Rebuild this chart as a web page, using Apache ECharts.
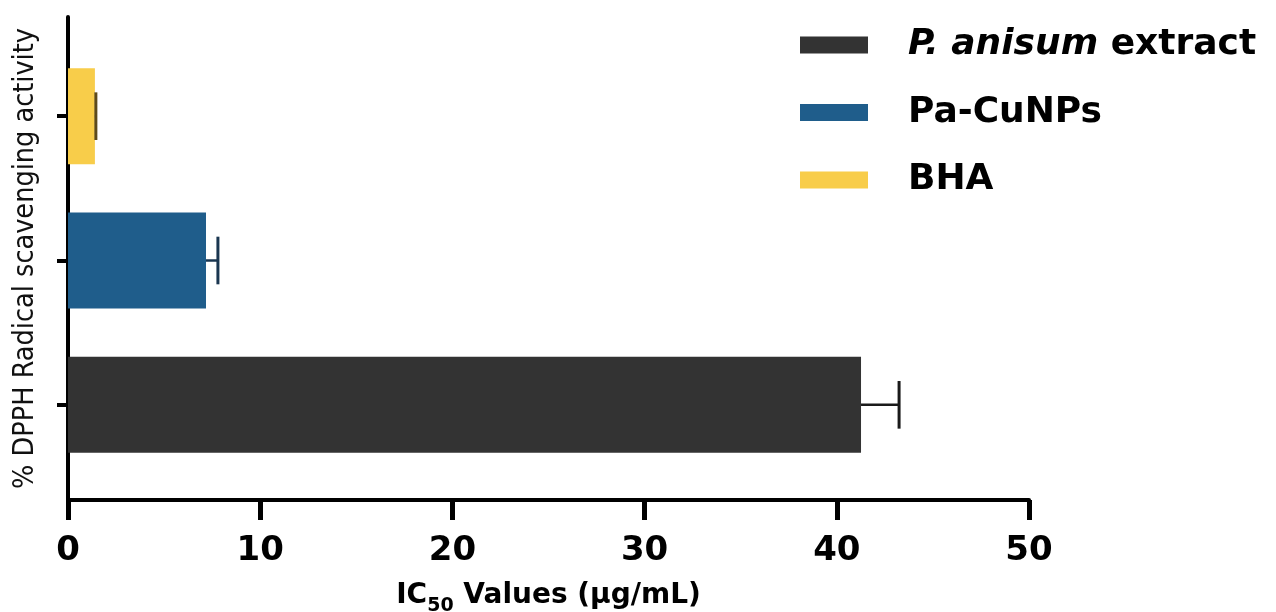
<!DOCTYPE html>
<html>
<head>
<meta charset="utf-8">
<script src="https://cdn.jsdelivr.net/npm/echarts@6/dist/echarts.min.js"></script>
<style>
  html, body { margin: 0; padding: 0; background: #fff; }
  #plot { width: 1276px; height: 612px; }
</style>
</head>
<body>
<div id="plot"></div>
<script>
// categories from bottom to top (category y axis starts at the bottom)
const categories = ['P. anisum extract', 'Pa-CuNPs', 'BHA'];
const ic50Values = [41.26, 7.18, 1.40];
const ic50Errors = [1.98, 0.62, 0.05];
const barColors = ['#333333', '#1f5d8b', '#f8cd4a'];
const errColors = ['#1a1a1a', '#1a3650', '#5c4a1c'];
const xTicks = [0, 10, 20, 30, 40, 50];

const boldFont = '"DejaVu Sans", sans-serif';

function drawPlot() {
    const chart = echarts.init(document.getElementById('plot'));

    // one bar series per group so every group gets its own legend entry
    const barSeries = categories.map((name, i) => ({
        name: name,
        type: 'bar',
        xAxisIndex: 1,
        yAxisIndex: 1,
        barWidth: '66.5%',
        barGap: '-100%',
        itemStyle: { color: barColors[i] },
        data: categories.map((c, j) => (j === i ? ic50Values[j] : null)),
        silent: true
    }));

    const errSeries = {
        type: 'custom',
        xAxisIndex: 1,
        yAxisIndex: 1,
        silent: true,
        z: 5,
        renderItem: (params, api) => {
            const v = api.value(0);
            const cat = api.value(1);
            const e = api.value(2);
            const p0 = api.coord([v, cat]);
            const p1 = api.coord([v + e, cat]);
            const half = api.size([0, 1])[1] * 0.165;
            const color = errColors[params.dataIndex];
            return {
                type: 'group',
                children: [
                    { type: 'line', shape: { x1: p0[0], y1: p0[1], x2: p1[0], y2: p1[1] },
                      style: { stroke: color, lineWidth: 2.5 } },
                    { type: 'line', shape: { x1: p1[0], y1: p1[1] - half, x2: p1[0], y2: p1[1] + half },
                      style: { stroke: color, lineWidth: 3 } }
                ]
            };
        },
        encode: { x: 0, y: 1 },
        data: categories.map((c, i) => [ic50Values[i], i, ic50Errors[i]])
    };

    const option = {
        animation: false,
        grid: [
            // frame grid: axis lines, x ticks and labels
            { left: 68, right: 247, top: 17, bottom: 112, outerBoundsMode: 'none', containLabel: false },
            // bar grid: the category band
            { left: 68, right: 247, top: 44, bottom: 135, outerBoundsMode: 'none', containLabel: false }
        ],
        legend: {
            data: categories,
            orient: 'vertical',
            left: 800,
            top: 25,
            padding: 0,
            itemWidth: 68,
            itemHeight: 17,
            itemGap: 27.5,
            icon: 'rect',
            selectedMode: false,
            formatter: name => name === 'P. anisum extract' ? '{i|P. anisum} extract' : name,
            textStyle: {
                fontFamily: boldFont,
                fontWeight: 'bold',
                fontSize: 36,
                lineHeight: 40,
                color: '#000',
                padding: [0, 0, 0, 35],
                rich: {
                    i: { fontFamily: boldFont, fontWeight: 'bold', fontStyle: 'italic', fontSize: 36, lineHeight: 40, color: '#000' }
                }
            }
        },
        xAxis: [
            {
                gridIndex: 0,
                type: 'value',
                min: xTicks[0],
                max: xTicks[xTicks.length - 1],
                interval: 10,
                axisLine: { show: true, lineStyle: { color: '#000', width: 4 } },
                axisTick: { show: true, length: 20, lineStyle: { color: '#000', width: 5 } },
                splitLine: { show: false },
                axisLabel: {
                    margin: 34,
                    fontFamily: boldFont,
                    fontWeight: 'bold',
                    fontSize: 34,
                    color: '#000'
                },
                name: '{n|IC}{s|50}{n| Values (µg/mL)}',
                nameLocation: 'middle',
                nameGap: 80,
                nameTextStyle: {
                    rich: {
                        n: { fontFamily: boldFont, fontWeight: 'bold', fontSize: 28, color: '#000', verticalAlign: 'bottom', lineHeight: 30 },
                        s: { fontFamily: boldFont, fontWeight: 'bold', fontSize: 19, color: '#000', verticalAlign: 'bottom', padding: [0, 0, -6, 0], lineHeight: 30 }
                    }
                }
            },
            {
                gridIndex: 1,
                type: 'value',
                min: xTicks[0],
                max: xTicks[xTicks.length - 1],
                show: false
            }
        ],
        yAxis: [
            {
                gridIndex: 0,
                type: 'value',
                axisLine: { show: true, lineStyle: { color: '#000', width: 4 } },
                axisTick: { show: false },
                axisLabel: { show: false },
                splitLine: { show: false },
                name: '% DPPH Radical scavenging activity',
                nameLocation: 'middle',
                nameRotate: 90,
                nameGap: 28,
                nameTextStyle: {
                    fontFamily: '"Liberation Sans Narrow", "DejaVu Sans Condensed", "Liberation Sans", sans-serif',
                    fontSize: 28.5,
                    fontWeight: 500,
                    color: '#111'
                }
            },
            {
                gridIndex: 1,
                type: 'category',
                data: categories,
                axisLine: { show: false },
                axisTick: { show: true, alignWithLabel: true, length: 11, lineStyle: { color: '#000', width: 4 } },
                axisLabel: { show: false },
                splitLine: { show: false }
            }
        ],
        series: [...barSeries, errSeries]
    };

    chart.setOption(option);
}

drawPlot();
</script>
</body>
</html>
